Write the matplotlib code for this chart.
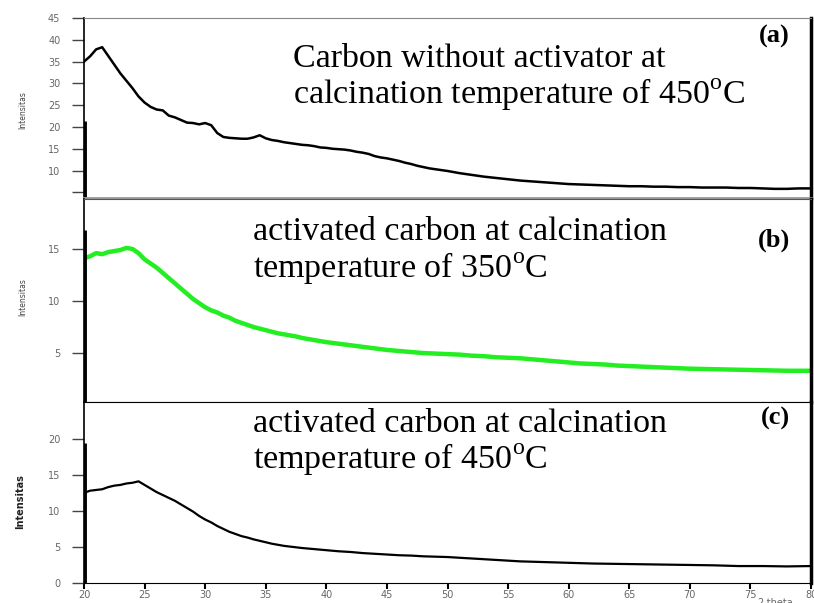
import matplotlib
matplotlib.use("Agg")
from matplotlib import pyplot as plt
import numpy as np

plt.rcParams['mathtext.fontset'] = 'custom'
plt.rcParams['mathtext.rm'] = 'Liberation Serif'

# (a) carbon without activator, 450 C
theta_a = [20, 20.5, 21, 21.5, 22, 22.5, 23, 23.5, 24, 24.5, 25, 25.5, 26, 26.5, 27, 27.5,
           28, 28.5, 29, 29.5, 30, 30.5, 31, 31.5, 32, 32.5, 33, 33.5, 34, 34.5, 35, 35.5,
           36, 36.5, 37, 37.5, 38, 38.5, 39, 39.5, 40, 40.5, 41, 41.5, 42, 42.5, 43, 43.5,
           44, 44.5, 45, 45.5, 46, 46.5, 47, 47.5, 48, 48.5, 49, 49.5, 50, 51, 52, 53, 54,
           55, 56, 57, 58, 59, 60, 61, 62, 63, 64, 65, 66, 67, 68, 69, 70, 71, 72, 73, 74,
           75, 76, 77, 78, 79, 80]
int_a = [35.0, 36.2, 37.8, 38.3, 36.3, 34.3, 32.3, 30.6, 28.9, 27.0, 25.6, 24.6, 24.0, 23.8,
         22.6, 22.2, 21.6, 21.0, 20.9, 20.6, 20.9, 20.4, 18.6, 17.7, 17.5, 17.4, 17.3, 17.3,
         17.6, 18.1, 17.4, 17.0, 16.8, 16.5, 16.3, 16.1, 15.9, 15.8, 15.6, 15.3, 15.2, 15.0,
         14.9, 14.8, 14.6, 14.3, 14.1, 13.8, 13.3, 13.0, 12.8, 12.5, 12.2, 11.8, 11.5, 11.1,
         10.8, 10.5, 10.3, 10.1, 9.9, 9.4, 9.0, 8.6, 8.3, 8.0, 7.7, 7.5, 7.3, 7.1, 6.9, 6.8,
         6.7, 6.6, 6.5, 6.4, 6.4, 6.3, 6.3, 6.2, 6.2, 6.1, 6.1, 6.1, 6.0, 6.0, 5.9, 5.8, 5.8,
         5.9, 5.9]

# (b) activated carbon, 350 C
theta_b = [20, 20.5, 21, 21.5, 22, 22.5, 23, 23.5, 24, 24.5, 25, 25.5, 26, 26.5, 27, 27.5,
           28, 28.5, 29, 29.5, 30, 30.5, 31, 31.5, 32, 32.5, 33, 33.5, 34, 34.5, 35, 35.5,
           36, 36.5, 37, 37.5, 38, 38.5, 39, 39.5, 40, 41, 42, 43, 44, 45, 46, 47, 48, 49,
           50, 51, 52, 53, 54, 55, 56, 57, 58, 59, 60, 61, 62, 63, 64, 65, 66, 67, 68, 69,
           70, 72, 74, 76, 78, 80]
int_b = [14.1, 14.3, 14.6, 14.5, 14.7, 14.8, 14.9, 15.1, 15.0, 14.6, 14.0, 13.6, 13.2, 12.7,
         12.2, 11.7, 11.2, 10.7, 10.2, 9.8, 9.4, 9.1, 8.9, 8.6, 8.4, 8.1, 7.9, 7.7, 7.5, 7.35,
         7.2, 7.05, 6.9, 6.8, 6.7, 6.6, 6.45, 6.35, 6.25, 6.15, 6.05, 5.9, 5.75, 5.6, 5.45,
         5.3, 5.2, 5.1, 5.0, 4.95, 4.9, 4.85, 4.75, 4.7, 4.6, 4.55, 4.5, 4.4, 4.3, 4.2, 4.1,
         4.0, 3.95, 3.9, 3.8, 3.75, 3.7, 3.65, 3.6, 3.55, 3.5, 3.45, 3.4, 3.35, 3.3, 3.3]

# (c) activated carbon, 450 C
theta_c = [20, 20.5, 21, 21.5, 22, 22.5, 23, 23.5, 24, 24.5, 25, 25.5, 26, 26.5, 27, 27.5,
           28, 28.5, 29, 29.5, 30, 30.5, 31, 31.5, 32, 32.5, 33, 33.5, 34, 34.5, 35, 35.5,
           36, 36.5, 37, 37.5, 38, 39, 40, 41, 42, 43, 44, 45, 46, 47, 48, 49, 50, 51, 52,
           53, 54, 55, 56, 57, 58, 59, 60, 62, 64, 66, 68, 70, 72, 74, 76, 78, 80]
int_c = [12.5, 12.8, 12.9, 13.0, 13.3, 13.5, 13.6, 13.8, 13.9, 14.1, 13.6, 13.1, 12.6, 12.2,
         11.8, 11.4, 10.9, 10.4, 9.9, 9.3, 8.8, 8.4, 7.9, 7.5, 7.1, 6.8, 6.5, 6.3, 6.05, 5.85,
         5.65, 5.45, 5.3, 5.15, 5.05, 4.95, 4.85, 4.7, 4.55, 4.4, 4.3, 4.15, 4.05, 3.95, 3.85,
         3.8, 3.7, 3.65, 3.6, 3.5, 3.4, 3.3, 3.2, 3.1, 3.0, 2.95, 2.9, 2.85, 2.8, 2.7, 2.65,
         2.6, 2.55, 2.5, 2.45, 2.35, 2.35, 2.3, 2.35]

# thick start-of-scan bar heights
bar_top = [21.4, 16.8, 19.4]

yticks_a = [5, 10, 15, 20, 25, 30, 35, 40, 45]
ytlabels_a = ['', '10', '15', '20', '25', '30', '35', '40', '45']
yticks_b = [5, 10, 15]
yticks_c = [0, 5, 10, 15, 20]
xticks = [20, 25, 30, 35, 40, 45, 50, 55, 60, 65, 70, 75, 80]

W, H = 814, 603


def rect(l, r, t, b):
    return [l / W, 1 - b / H, (r - l) / W, (b - t) / H]


def px(x, y):
    return x / W, 1 - y / H


fig = plt.figure(figsize=(W / 100, H / 100), dpi=100)
ax_a = fig.add_axes(rect(84, 811, 18, 198))
ax_b = fig.add_axes(rect(84, 811, 199, 402))
ax_c = fig.add_axes(rect(84, 811, 402, 583))

tick_col = '#666666'
for ax in (ax_a, ax_b, ax_c):
    ax.set_xlim(20, 80)
    ax.tick_params(axis='y', direction='out', length=9, width=1, color='#444444',
                   labelsize=7, labelcolor=tick_col, pad=8)
    ax.spines['left'].set_linewidth(1.2)
    ax.spines['right'].set_linewidth(2.5)
    ax.spines['right'].set_color('black')

ax_a.plot(theta_a, int_a, color='black', lw=1.8)
ax_a.vlines(20, 3.7, bar_top[0], color='black', lw=3.5)
ax_a.set_ylim(3.7, 45.0)
ax_a.set_yticks(yticks_a)
ax_a.set_yticklabels(ytlabels_a)
ax_a.set_xticks([])
ax_a.spines['top'].set_color('#888888')
ax_a.spines['bottom'].set_color('#999999')
ax_a.spines['bottom'].set_linewidth(2)

ax_b.plot(theta_b, int_b, color='#22ee22', lw=3.2)
ax_b.vlines(20, 0.3, bar_top[1], color='black', lw=3.5)
ax_b.set_ylim(0.3, 19.8)
ax_b.set_yticks(yticks_b)
ax_b.set_xticks([])
ax_b.spines['top'].set_color('#555555')
ax_b.spines['bottom'].set_color('#333333')

ax_c.plot(theta_c, int_c, color='black', lw=1.6)
ax_c.vlines(20, 0, bar_top[2], color='black', lw=3.5)
ax_c.set_ylim(0, 25.1)
ax_c.set_yticks(yticks_c)
ax_c.set_xticks(xticks)
ax_c.tick_params(axis='x', direction='out', length=4, width=1.5, labelsize=7,
                 labelcolor=tick_col, pad=1)

# axis titles (tiny)
fig.text(*px(23, 110), 'Intensitas', rotation=90, fontsize=5.5, color='#444444',
         ha='center', va='center')
fig.text(*px(23, 297), 'Intensitas', rotation=90, fontsize=5.5, color='#444444',
         ha='center', va='center')
fig.text(*px(20, 502), 'Intensitas', rotation=90, fontsize=7, color='#222222',
         fontweight='bold', ha='center', va='center')
fig.text(*px(757, 598), '2-theta', fontsize=7, color=tick_col, ha='left', va='top')

serif = 'Liberation Serif'
tsize = 24.5
fig.text(*px(293, 67), 'Carbon without activator at', fontsize=tsize, family=serif,
         va='baseline')
fig.text(*px(293, 103), r'calcination temperature of 450$^{\mathrm{o}}$C', fontsize=tsize,
         family=serif, va='baseline')
fig.text(*px(253, 240), 'activated carbon at calcination', fontsize=tsize, family=serif,
         va='baseline')
fig.text(*px(253, 277), r'temperature of 350$^{\mathrm{o}}$C', fontsize=tsize, family=serif,
         va='baseline')
fig.text(*px(253, 432), 'activated carbon at calcination', fontsize=tsize, family=serif,
         va='baseline')
fig.text(*px(253, 468), r'temperature of 450$^{\mathrm{o}}$C', fontsize=tsize, family=serif,
         va='baseline')

lsize = 19
fig.text(*px(790, 43), '(a)', fontsize=lsize, family=serif, fontweight='bold',
         ha='right', va='baseline')
fig.text(*px(790, 247), '(b)', fontsize=lsize, family=serif, fontweight='bold',
         ha='right', va='baseline')
fig.text(*px(790, 425), '(c)', fontsize=lsize, family=serif, fontweight='bold',
         ha='right', va='baseline')

fig.savefig('out.png', dpi=100)
